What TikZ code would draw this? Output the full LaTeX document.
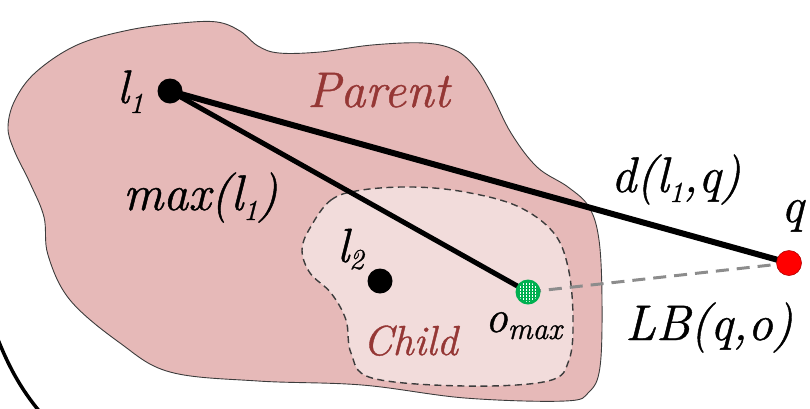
\documentclass[tikz,border=0pt]{standalone}
\usepackage{fontspec}
\setmainfont{Latin Modern Roman}[ItalicFeatures={FakeBold=0.9}]
\usetikzlibrary{calc}
\definecolor{parentfill}{RGB}{230,185,184}
\definecolor{childfill}{RGB}{242,220,219}
\definecolor{regiontext}{RGB}{149,55,53}
\definecolor{outline}{RGB}{60,60,60}
\definecolor{objgreen}{RGB}{0,176,80}
\definecolor{lbgray}{RGB}{140,140,140}
% lowered subscript in text mode: [drop]{size}{text}
\newcommand\lsub[3][10pt]{\raisebox{-#1}{\fontsize{#2}{#2}\selectfont #3}}
\begin{document}
\begin{tikzpicture}[x=1pt,y=-1pt,
  lbl/.style={anchor=base west, inner sep=0, font=\fontsize{50}{56}\selectfont\itshape},
  regionlbl/.style={lbl, text=regiontext},
  blackdot/.style={circle, fill=black, minimum size=25pt, inner sep=0},
  reddot/.style={circle, fill=red, draw=red!70!black, line width=0.6pt, minimum size=25pt, inner sep=0},
  greendot/.style={circle, fill=objgreen, minimum size=25pt, inner sep=0},
  distline/.style={line width=6pt},
  maxline/.style={line width=5pt},
  lbline/.style={lbgray, line width=3pt, dash pattern=on 13pt off 8pt}]
\useasboundingbox (0,0) rectangle (810,408);
\clip (0,0) rectangle (810,408);

% outer boundary arc
\draw[line width=3.5pt] (-3,337) .. controls (8,365) and (20,388) .. (40,412);

% parent region
\draw[fill=parentfill, draw=outline, line width=0.9pt]
  plot[smooth cycle, tension=0.6] coordinates {
    (8,127) (15,100) (36,72) (77,45) (129,30) (181,23) (217,22) (240,31)
    (258,46) (279,53) (320,52) (372,45) (424,43) (455,50) (475,67)
    (491,93) (511,133) (537,167) (568,187) (589,207) (599,240) (602,300)
    (600,367) (589,392) (565,401) (465,398) (362,385) (258,381) (170,372)
    (120,343) (70,300) (48,255) (44,217) (30,183) (14,150)};

% child region
\draw[fill=childfill, draw=outline, line width=1.4pt, dash pattern=on 7pt off 4.5pt]
  plot[smooth cycle, tension=0.6] coordinates {
    (310,228) (331,200) (362,190) (413,187) (465,192) (517,206) (553,232)
    (568,267) (573,317) (569,360) (548,381) (465,386) (372,378) (351,353)
    (346,320) (331,293) (310,273) (302,250)};

% point positions
\coordinate (pl1) at (170,91);
\coordinate (pl2) at (380,281);
\coordinate (po) at (528,292);
\coordinate (pq) at (789,263);

% distances
\draw[lbline] (po) -- (pq);
\draw[distline] (pl1) -- (pq);
\draw[maxline] (pl1) -- (po);

% points
\node[blackdot] (l1) at (pl1) {};
\node[blackdot] (l2) at (pl2) {};
\node[reddot] (q) at (pq) {};
\node[greendot] (omax) at (po) {};
\begin{scope}
  \clip (po) circle (10pt);
  \foreach \dx in {-7.5,-4.5,-1.5,1.5,4.5,7.5}
    \draw[white, line width=1pt, dash pattern=on 1.6pt off 1.4pt]
      ($(po)+(\dx,-12)$) -- ($(po)+(\dx,12)$);
\end{scope}

% labels
\node[regionlbl] (parentlbl) at (307,107) {Parent};
\node[regionlbl, font=\fontsize{42}{48}\selectfont\itshape] (childlbl) at (363,355) {Child};
\node[lbl, font=\fontsize{47}{52}\selectfont\itshape] (l1lbl) at (117,103) {l\lsub{29}{1}};
\node[lbl, font=\fontsize{48}{52}\selectfont\itshape] (l2lbl) at (337,262) {l\lsub[7pt]{29}{2}};
\node[lbl] (maxlbl) at (123,210) {max(l\lsub{29}{1})};
\node[lbl] (dlbl) at (611,192) {d(l\lsub{29}{1},q)};
\node[lbl] (qlbl) at (781,222) {q};
\node[lbl] (lblbl) at (625,340) {LB(q,o)};
\node[lbl, font=\fontsize{45}{50}\selectfont\itshape] (omaxlbl) at (485,332) {o\lsub[7pt]{31}{max}};
\end{tikzpicture}
\end{document}
